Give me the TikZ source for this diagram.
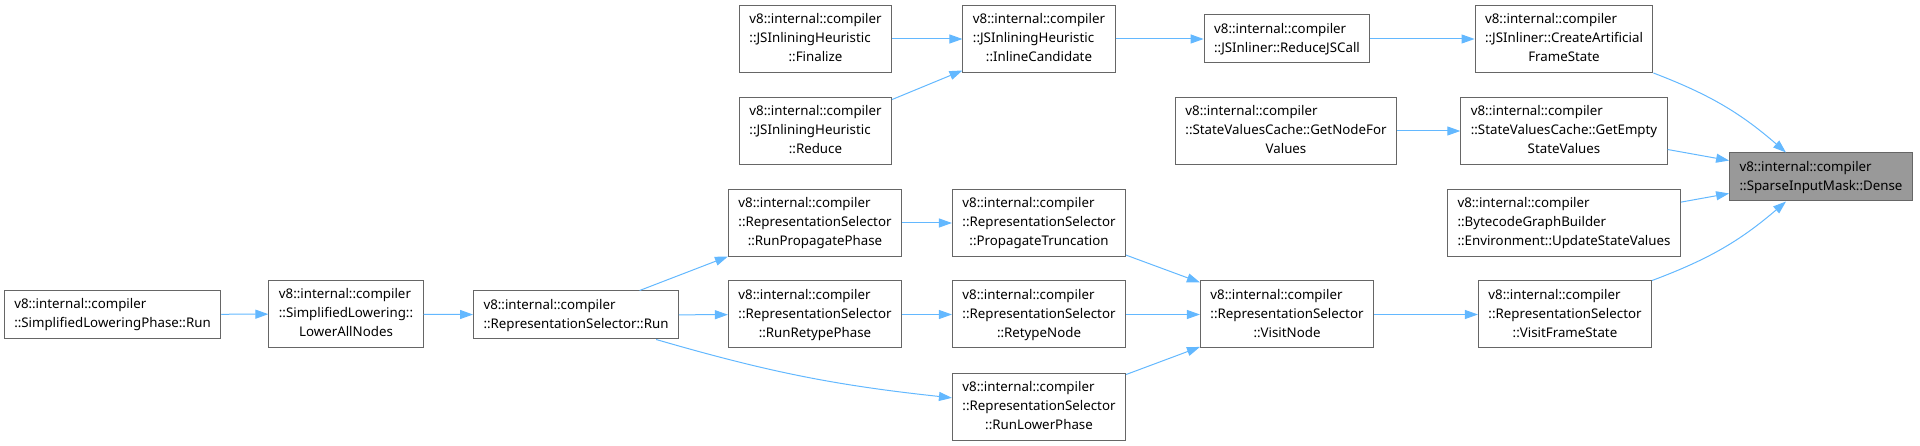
\documentclass[tikz,border=0pt]{standalone}
\usepackage{fontspec}
\setmainfont{Noto Sans}
\usepackage{tikz}
\usetikzlibrary{arrows.meta}
\definecolor{edgeblue}{HTML}{63B8FF}
\definecolor{boxgray}{HTML}{666666}
\definecolor{hlgray}{HTML}{999999}
\newcommand\twol[2]{\begin{tabular}{@{}l@{}}#1\\\multicolumn{1}{@{}c@{}}{#2}\end{tabular}}
\newcommand\threel[3]{\begin{tabular}{@{}l@{}}#1\\#2\\\multicolumn{1}{@{}c@{}}{#3}\end{tabular}}
\tikzset{
  fnbox/.style={draw=boxgray, fill=white, line width=1pt, inner xsep=10pt, inner ysep=5pt, font=\fontsize{13.3}{19}\selectfont},
  fnhl/.style={fnbox, fill=hlgray},
  call/.style={-{Triangle[length=13pt,width=9pt]}, draw=edgeblue, line width=1pt}
}

\begin{document}
\begin{tikzpicture}[x=1pt,y=-1pt]
\useasboundingbox (0,0) rectangle (1920,446);
\node[fnbox] (phaseRun) at (112.5,314.5) {\twol{v8::internal::compiler}{::SimplifiedLoweringPhase::Run}};
\node[fnbox] (lowerAll) at (346,314) {\threel{v8::internal::compiler}{::SimplifiedLowering::}{LowerAllNodes}};
\node[fnbox] (selRun) at (576,315) {\twol{v8::internal::compiler}{::RepresentationSelector::Run}};
\node[fnbox] (runProp) at (815,223) {\threel{v8::internal::compiler}{::RepresentationSelector}{::RunPropagatePhase}};
\node[fnbox] (runRetype) at (815,314.5) {\threel{v8::internal::compiler}{::RepresentationSelector}{::RunRetypePhase}};
\node[fnbox] (propTrunc) at (1039,223) {\threel{v8::internal::compiler}{::RepresentationSelector}{::PropagateTruncation}};
\node[fnbox] (retypeNode) at (1039,314.5) {\threel{v8::internal::compiler}{::RepresentationSelector}{::RetypeNode}};
\node[fnbox] (runLower) at (1039,407) {\threel{v8::internal::compiler}{::RepresentationSelector}{::RunLowerPhase}};
\node[fnbox] (visitNode) at (1287,314.5) {\threel{v8::internal::compiler}{::RepresentationSelector}{::VisitNode}};
\node[fnbox] (visitFS) at (1565,314.5) {\threel{v8::internal::compiler}{::RepresentationSelector}{::VisitFrameState}};
\node[fnbox] (finalize) at (815.5,39) {\threel{v8::internal::compiler}{::JSInliningHeuristic}{::Finalize}};
\node[fnbox] (reduce) at (815.5,131) {\threel{v8::internal::compiler}{::JSInliningHeuristic}{::Reduce}};
\node[fnbox] (inlineCand) at (1039,39) {\threel{v8::internal::compiler}{::JSInliningHeuristic}{::InlineCandidate}};
\node[fnbox] (reduceJS) at (1287,39) {\twol{v8::internal::compiler}{::JSInliner::ReduceJSCall}};
\node[fnbox] (getNodeFor) at (1286,131) {\threel{v8::internal::compiler}{::StateValuesCache::GetNodeFor}{Values}};
\node[fnbox] (createAFS) at (1564,39) {\threel{v8::internal::compiler}{::JSInliner::CreateArtificial}{FrameState}};
\node[fnbox] (getEmpty) at (1564,131) {\threel{v8::internal::compiler}{::StateValuesCache::GetEmpty}{StateValues}};
\node[fnbox] (bytecode) at (1564,223) {\threel{v8::internal::compiler}{::BytecodeGraphBuilder}{::Environment::UpdateStateValues}};
\node[fnhl] (dense) at (1821,177) {\twol{v8::internal::compiler}{::SparseInputMask::Dense}};

\draw[call] (phaseRun) -- (lowerAll);
\draw[call] (lowerAll) -- (selRun);
\draw[call] (selRun) -- (runProp);
\draw[call] (selRun) -- (runRetype);
\draw[call] (selRun.-17) to[bend right=5] (runLower.174);
\draw[call] (runProp) -- (propTrunc);
\draw[call] (runRetype) -- (retypeNode);
\draw[call] (propTrunc) -- (visitNode);
\draw[call] (retypeNode) -- (visitNode);
\draw[call] (runLower) -- (visitNode);
\draw[call] (visitNode) -- (visitFS);
\draw[call] (visitFS.north east) to[bend right=10] (dense.215);
\draw[call] (finalize) -- (inlineCand);
\draw[call] (reduce) -- (inlineCand);
\draw[call] (inlineCand) -- (reduceJS);
\draw[call] (reduceJS) -- (createAFS);
\draw[call] (createAFS.south east) to[bend left=10] (dense.145);
\draw[call] (getNodeFor) -- (getEmpty);
\draw[call] (getEmpty) -- (dense);
\draw[call] (bytecode) -- (dense);
\end{tikzpicture}
\end{document}
